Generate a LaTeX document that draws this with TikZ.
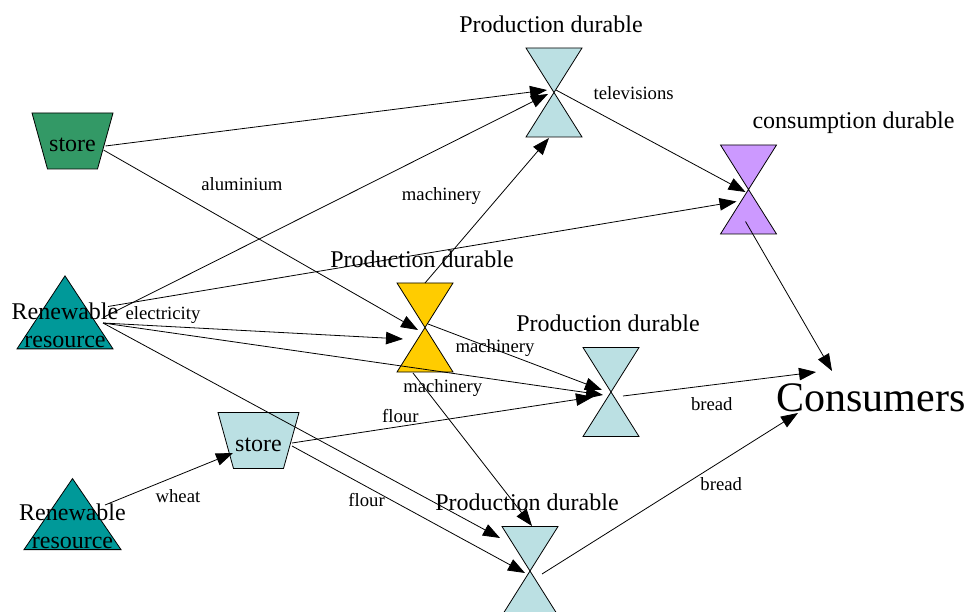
\documentclass[tikz,border=0pt]{standalone}
\usepackage{fontspec}
\setmainfont{Liberation Serif}
\usetikzlibrary{shapes.geometric,arrows.meta,calc}

\definecolor{storegreen}{RGB}{51,153,102}
\definecolor{renteal}{RGB}{0,153,153}
\definecolor{pdblue}{RGB}{187,224,227}
\definecolor{pdyellow}{RGB}{255,204,0}
\definecolor{cdpurple}{RGB}{204,153,255}

\newcommand{\bigfont}{\fontsize{24}{28}\selectfont}
\newcommand{\smallfont}{\fontsize{18.7}{22}\selectfont}

\tikzset{
  hglass/.style={minimum width=56pt, minimum height=89pt, inner sep=0pt, outer sep=0pt,
    append after command={\pgfextra{\let\hgnode\tikzlastnode
      \filldraw[fill=#1] (\hgnode.north west) -- (\hgnode.north east) -- (\hgnode.south west) -- (\hgnode.south east) -- cycle;}}},
  hglab/.style={font=\bigfont, inner sep=0pt, xshift=-3pt, yshift=15pt},
  storebox/.style={minimum width=83pt, minimum height=58pt, inner sep=0pt, font=\bigfont,
    text height=21pt, text depth=0pt,
    path picture={\filldraw[fill=#1]
      ($(path picture bounding box.north west)+(1pt,-1pt)$) -- ($(path picture bounding box.north east)+(-1pt,-1pt)$) --
      ($(path picture bounding box.south east)+(-16.5pt,1pt)$) -- ($(path picture bounding box.south west)+(16.5pt,1pt)$) -- cycle;}},
  renewbox/.style={isosceles triangle, isosceles triangle stretches, shape border rotate=90,
    draw, fill=renteal, minimum width=96pt, minimum height=73pt, inner sep=0pt},
  rentext/.style={font=\bigfont, align=center, inner sep=0pt, yshift=-2pt},
  lbl/.style={font=\smallfont, inner sep=0pt},
}

\begin{document}
\begin{tikzpicture}[x=1pt, y=-1pt, line width=0.8pt, >={Triangle[length=17pt,width=12.5pt]}]

\useasboundingbox (0,0) rectangle (969,612);

% sources and stores
\node[storebox=storegreen] (st1) at (72.5,141) {store};
\node[renewbox, label={[rentext]center:Renewable\\resource}] (ren1) at (65,323) {};
\node[renewbox, minimum width=97pt, minimum height=71pt, label={[rentext]center:Renewable\\resource}] (ren2) at (72.5,524) {};
\node[storebox=pdblue] (st2) at (258.5,440.5) {store};

% processes
\node[hglass=pdblue, label={[hglab]above:Production durable}] (pdtop) at (554,92.5) {};
\node[hglass=cdpurple, label={[hglab, xshift=108pt, yshift=-4pt]above:consumption durable}] (cons) at (748.5,189.5) {};
\node[hglass=pdyellow, label={[hglab]above:Production durable}] (pdyel) at (425,327.5) {};
\node[hglass=pdblue, label={[hglab]above:Production durable}] (pdmid) at (611,392) {};
\node[hglass=pdblue, label={[hglab]above:Production durable}] (pdbot) at (530,571) {};

\node[font=\fontsize{42}{46}\selectfont, inner sep=0pt] (cnsm) at (871,398) {Consumers};

% flows
\draw[->] ($(st1)+(33,5)$) -- ($(pdtop)+(-7,-2.5)$);
\draw[->] ($(ren1)+(38,-5.5)$) -- ($(pdtop)+(-6,1.5)$);
\draw[->] (pdyel.north) -- node[lbl, pos=0.6, xshift=-58pt] {machinery} ($(pdtop.south)+(-5,1)$);
\draw[->] ($(pdtop)+(2,-2.5)$) -- node[lbl, pos=0.41, yshift=39pt] {televisions} ($(cons)+(-3,2.5)$);
\draw[->] ($(ren1)+(43,-16.5)$) -- ($(cons)+(-12,12)$);
\draw[->] ($(cons)+(-3,32)$) -- ($(cnsm)+(-39,-27)$);

\draw[->] ($(st1)+(31,9)$) -- node[lbl, pos=0.44, yshift=45pt] {aluminium} ($(pdyel)+(-7,2.5)$);
\draw[->] ($(ren1)+(38,0)$) -- node[lbl, pos=0.2, yshift=11pt] {electricity} ($(pdyel)+(-22,11.5)$);
\draw[->] ($(ren1)+(38,0)$) -- ($(pdmid)+(-8,3)$);
\draw[->] ($(ren1)+(38,0)$) -- ($(pdbot)+(-30,-33)$);

\draw[->] ($(pdyel)+(3,-3.5)$) -- node[lbl, pos=0.385, yshift=1pt] {machinery} ($(pdmid)+(-9,-2)$);
\draw[->] ($(pdyel)+(-12,45.5)$) -- node[lbl, pos=0.09, xshift=19pt, yshift=-1pt] {machinery} ($(pdbot)+(2,-45)$);

\draw[->] ($(ren2)+(32.5,-19)$) -- node[lbl, pos=0.57, yshift=-20.5pt] {wheat} ($(st2)+(-25.5,12.5)$);
\draw[->] ($(st2)+(33.5,2.5)$) -- node[lbl, pos=0.36, yshift=10pt] {flour} ($(pdmid)+(-18,5)$);
\draw[->] ($(st2)+(33.5,5.5)$) -- node[lbl, pos=0.32, yshift=-13.5pt] {flour} ($(pdbot)+(-5,2)$);

\draw[->] ($(pdmid)+(12,4)$) -- node[lbl, pos=0.46, yshift=-19pt] {bread} ($(cnsm)+(-55,-26)$);
\draw[->] ($(pdbot)+(12,3)$) -- node[lbl, pos=0.7, yshift=-22.5pt] {bread} ($(cnsm)+(-73,15)$);

\end{tikzpicture}
\end{document}
